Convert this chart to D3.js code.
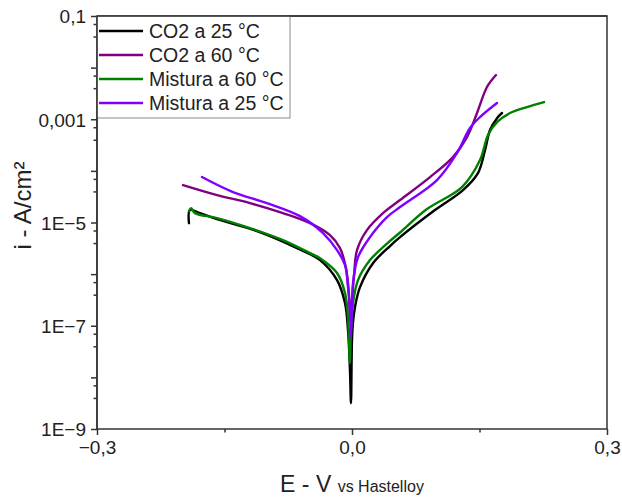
<!DOCTYPE html>
<html>
<head>
<meta charset="utf-8">
<script src="https://cdn.jsdelivr.net/npm/d3@7"></script>
<style>
  body { margin: 0; background: #fff; }
  svg { display: block; font-family: "Liberation Sans", Arial, sans-serif; }
</style>
</head>
<body>
<svg id="chart" width="622" height="498"></svg>
<script>
// --- Data (E in V vs Hastelloy, i in A/cm2) ---
const seriesNames = ["CO2 a 25 °C", "CO2 a 60 °C", "Mistura a 60 °C", "Mistura a 25 °C"];
const seriesColors = ["#000000", "#800080", "#008000", "#8000ff"];

const co2At25 = [
  [-0.1918, 9.7e-6], [-0.1906, 1.74e-5], [-0.1788, 1.52e-5], [-0.1588, 1.16e-5],
  [-0.1118, 6.8e-6], [-0.0647, 3.19e-6], [-0.0376, 1.87e-6], [-0.0176, 7.65e-7],
  [-0.0082, 2.74e-7], [-0.0047, 8.2e-8], [-0.0024, 1.38e-8], [-0.0012, 3.16e-9],
  [0.0, 5.26e-8], [0.0012, 1.17e-7], [0.0035, 2.29e-7], [0.0094, 5.6e-7],
  [0.0247, 1.63e-6], [0.0447, 3.5e-6], [0.0565, 5.2e-6], [0.0976, 1.74e-5],
  [0.1306, 4.25e-5], [0.1482, 9.06e-5], [0.1565, 2.53e-4], [0.1624, 6.18e-4],
  [0.1706, 1.05e-3], [0.1765, 1.32e-3]
];
const co2At60 = [
  [-0.1988, 5.31e-5], [-0.1588, 3.4e-5], [-0.12, 2.38e-5], [-0.0812, 1.52e-5],
  [-0.0494, 9.73e-6], [-0.0259, 5.7e-6], [-0.0141, 3.19e-6], [-0.0071, 1.31e-6],
  [-0.0035, 3.92e-7], [-0.0024, 1.28e-7], [0.0, 3.13e-7], [0.0024, 9.57e-7],
  [0.0059, 2.92e-6], [0.0176, 7.13e-6], [0.0365, 1.52e-5], [0.0565, 2.72e-5],
  [0.0918, 7.59e-5], [0.1188, 1.85e-4], [0.1353, 4.52e-4], [0.1471, 1.32e-3],
  [0.1588, 4.21e-3], [0.1694, 7.19e-3]
];
const mixAt60 = [
  [-0.1918, 1.66e-5], [-0.1894, 1.9e-5], [-0.1847, 1.52e-5], [-0.1588, 1.22e-5],
  [-0.12, 7.8e-6], [-0.0812, 4.56e-6], [-0.0494, 2.55e-6], [-0.0376, 2.04e-6],
  [-0.0176, 1.05e-6], [-0.0082, 4.28e-7], [-0.0047, 1.47e-7], [-0.0024, 1.88e-8],
  [-0.0012, 8.2e-8], [0.0012, 2.74e-7], [0.0071, 7.65e-7], [0.0212, 1.87e-6],
  [0.0412, 3.9e-6], [0.0565, 6.4e-6], [0.0882, 1.82e-5], [0.1294, 4.85e-5],
  [0.1506, 1.62e-4], [0.16, 4.94e-4], [0.1706, 8.83e-4], [0.1859, 1.32e-3],
  [0.2059, 1.72e-3], [0.2259, 2.15e-3]
];
const mixAt25 = [
  [-0.1765, 7.59e-5], [-0.14, 3.88e-5], [-0.1, 2.38e-5], [-0.0612, 1.33e-5],
  [-0.0341, 6.24e-6], [-0.0176, 2.92e-6], [-0.0082, 1.49e-6], [-0.0047, 5.6e-7],
  [-0.0024, 2.0e-7], [-0.0012, 6.0e-8], [0.0, 2.5e-7], [0.0012, 6.7e-7],
  [0.0071, 2.13e-6], [0.0212, 5.21e-6], [0.0412, 1.27e-5], [0.0565, 1.99e-5],
  [0.1, 6.64e-5], [0.1235, 2.21e-4], [0.1388, 6.75e-4], [0.1506, 1.1e-3],
  [0.1706, 2.06e-3]
];
const allSeries = [co2At25, co2At60, mixAt60, mixAt25];

// axis ticks
const xMajorTicks = [-0.3, 0.0, 0.3];
const xMinorTicks = [-0.15, 0.15];
const xTickLabels = ["\u22120,3", "0,0", "0,3"];
const yMajorTicks = [1e-1, 1e-2, 1e-3, 1e-4, 1e-5, 1e-6, 1e-7, 1e-8, 1e-9];
const yLabelTicks = [1e-1, 1e-3, 1e-5, 1e-7, 1e-9];
const yTickLabels = ["0,1", "0,001", "1E\u22125", "1E\u22127", "1E\u22129"];
const yMinorFactors = [0.4, 0.7];

// --- Layout ---
const svg = d3.select("#chart");
const width = +svg.attr("width");
const height = +svg.attr("height");
const margin = { top: 16, right: 15, bottom: 69, left: 97 };
const plotW = width - margin.left - margin.right;
const plotH = height - margin.top - margin.bottom;

const x = d3.scaleLinear().domain([-0.3, 0.3]).range([0, plotW]);
const y = d3.scaleLog().domain([1e-9, 1e-1]).range([plotH, 0]);

const axisColor = "#333";
const g = svg.append("g").attr("transform", `translate(${margin.left},${margin.top})`);

// minor y tick values between decades
const yMinorTicks = [];
yMajorTicks.slice(0, -1).forEach(v => {
  yMinorFactors.forEach(f => yMinorTicks.push(v * f));
});

// --- Curves ---
const line = d3.line()
  .x(d => x(d[0]))
  .y(d => y(d[1]))
  .curve(d3.curveCatmullRom.alpha(0.5));

g.append("g").selectAll("path")
  .data(allSeries)
  .join("path")
  .attr("d", line)
  .attr("fill", "none")
  .attr("stroke", (d, i) => seriesColors[i])
  .attr("stroke-width", 2.4)
  .attr("stroke-linejoin", "round")
  .attr("stroke-linecap", "round");

// --- Axes ---
function styleAxis(sel) {
  sel.select(".domain").remove();
  sel.selectAll("line").attr("stroke", axisColor).attr("stroke-width", 1.5);
  sel.selectAll("text").attr("fill", "#222").style("font-size", "19px");
}

// y minor
g.append("g")
  .call(d3.axisLeft(y).tickValues(yMinorTicks).tickSize(3.5).tickFormat(""))
  .call(styleAxis);
// y major (all decades, labelled every second one)
g.append("g")
  .call(d3.axisLeft(y).tickValues(yMajorTicks).tickSize(6).tickPadding(5)
    .tickFormat(v => {
      const k = yLabelTicks.findIndex(t => Math.abs(Math.log10(t) - Math.log10(v)) < 1e-6);
      return k >= 0 ? yTickLabels[k] : "";
    }))
  .call(styleAxis)
  .selectAll("text").attr("dy", "0.36em");

// x minor
g.append("g")
  .attr("transform", `translate(0,${plotH})`)
  .call(d3.axisBottom(x).tickValues(xMinorTicks).tickSize(3.5).tickFormat(""))
  .call(styleAxis);
// x major
g.append("g")
  .attr("transform", `translate(0,${plotH})`)
  .call(d3.axisBottom(x).tickValues(xMajorTicks).tickSize(6).tickPadding(6)
    .tickFormat((v, i) => xTickLabels[i]))
  .call(styleAxis);

// frame
g.append("rect")
  .attr("width", plotW)
  .attr("height", plotH)
  .attr("fill", "none")
  .attr("stroke", axisColor)
  .attr("stroke-width", 1.5);

// --- Axis titles ---
svg.append("text")
  .attr("transform", `translate(31,${margin.top + plotH / 2 - 17}) rotate(-90)`)
  .attr("text-anchor", "middle")
  .attr("fill", "#222")
  .style("font-size", "24px")
  .text("i - A/cm²");

const xTitle = svg.append("text")
  .attr("x", margin.left + plotW / 2)
  .attr("y", 492)
  .attr("text-anchor", "middle")
  .attr("fill", "#222");
xTitle.append("tspan").style("font-size", "23px").text("E - V ");
xTitle.append("tspan").style("font-size", "16px").text("vs Hastelloy");

// --- Legend ---
const legend = g.append("g");
legend.append("rect")
  .attr("x", 0).attr("y", 0)
  .attr("width", 193).attr("height", 102)
  .attr("fill", "#fff")
  .attr("stroke", "#8a8a8a")
  .attr("stroke-width", 1);

const rows = legend.selectAll(".row")
  .data(seriesNames)
  .join("g")
  .attr("class", "row")
  .attr("transform", (d, i) => `translate(0,${15 + i * 24})`);
rows.append("line")
  .attr("x1", 2).attr("x2", 46)
  .attr("stroke", (d, i) => seriesColors[i])
  .attr("stroke-width", 2.4);
rows.append("text")
  .attr("x", 52)
  .attr("dy", "0.36em")
  .attr("fill", "#222")
  .style("font-size", "19.5px")
  .text(d => d);

// redraw frame top and left edges over legend
g.append("line")
  .attr("x1", 0).attr("x2", plotW)
  .attr("stroke", axisColor).attr("stroke-width", 1.5);
g.append("line")
  .attr("y1", 0).attr("y2", plotH)
  .attr("stroke", axisColor).attr("stroke-width", 1.5);
</script>
</body>
</html>
